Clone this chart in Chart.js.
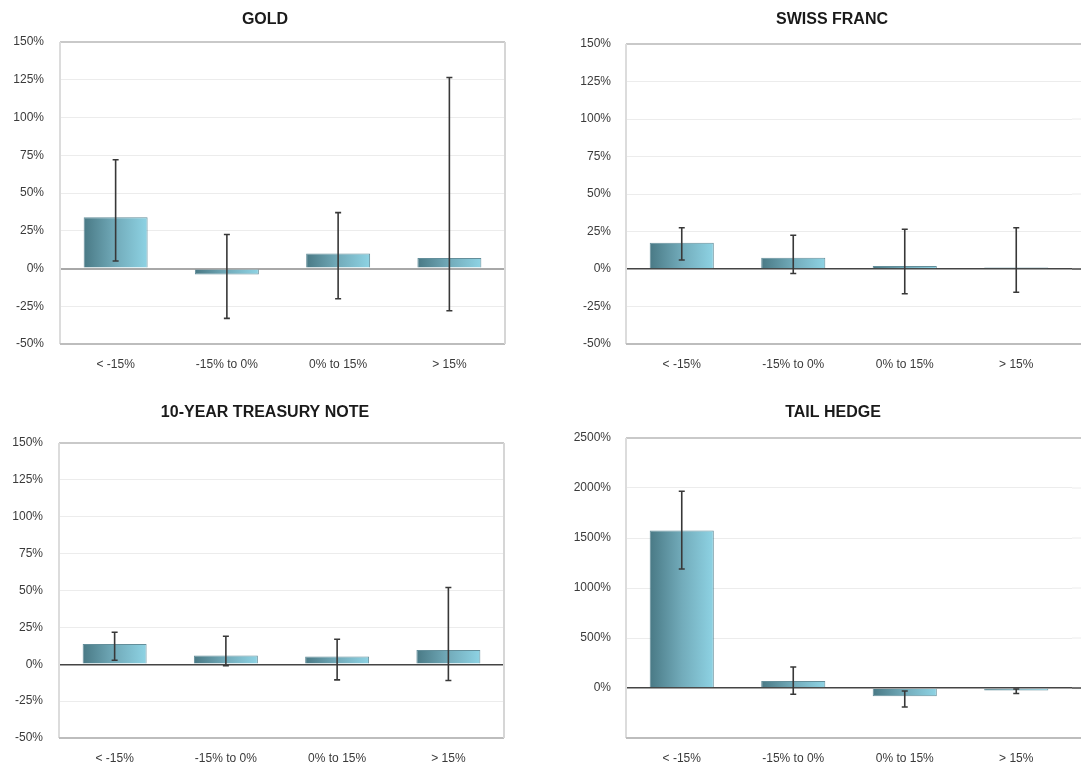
<!DOCTYPE html>
<html><head><meta charset="utf-8">
<script src="https://cdn.jsdelivr.net/npm/chart.js@4/dist/chart.umd.min.js"></script>
<style>
html,body{margin:0;padding:0;background:#fff;width:1081px;height:769px;overflow:hidden;position:relative}
canvas{position:absolute}
</style></head><body>
<canvas id="c1" width="540" height="385" style="left:0px;top:0px"></canvas>
<canvas id="c2" width="541" height="385" style="left:540px;top:0px"></canvas>
<canvas id="c3" width="540" height="379" style="left:0px;top:390px"></canvas>
<canvas id="c4" width="541" height="379" style="left:540px;top:390px"></canvas>
<script>
// ---- data ----
const categories = ['< -15%', '-15% to 0%', '0% to 15%', '> 15%'];

const goldValues = [34, -4, 10, 7];
const goldLow    = [5, -33, -20, -28];
const goldHigh   = [72, 22.5, 37, 126.5];

const swissValues = [17.5, 7.5, 2, 1];
const swissLow    = [6, -3, -16.5, -15.5];
const swissHigh   = [27.5, 22.5, 26.5, 27.5];

const treasuryValues = [13.8, 5.9, 5.2, 9.7];
const treasuryLow    = [2.7, -1, -10.6, -11];
const treasuryHigh   = [21.7, 19, 17, 52];

const tailValues = [1575, 70, -83, -25];
const tailLow    = [1190, -63, -190, -55];
const tailHigh   = [1967, 210, -30, -10];

const pctTicks = [-50, -25, 0, 25, 50, 75, 100, 125, 150];
const tailTicks = [-500, 0, 500, 1000, 1500, 2000, 2500];

// ---- styling / layout ----
const FONT = "'Liberation Sans', Arial, sans-serif";
const BAR_PCT = 0.575;

const panels = [
  {id:'c1', title:'GOLD', tx:265, ty:20, values:goldValues, low:goldLow, high:goldHigh, ticks:pctTicks,
   yW:60, yPad:16, padR:35, padT:42, xH:30, padB:11, zeroColor:'#a8a8a8', zeroW:2, extend:false},
  {id:'c2', title:'SWISS FRANC', tx:292, ty:20, values:swissValues, low:swissLow, high:swissHigh, ticks:pctTicks,
   yW:86, yPad:15, padR:9, padT:44, xH:30, padB:11, zeroColor:'#444444', zeroW:1.5, extend:true},
  {id:'c3', title:'10-YEAR TREASURY NOTE', tx:265, ty:23, values:treasuryValues, low:treasuryLow, high:treasuryHigh, ticks:pctTicks,
   yW:59, yPad:16, padR:36, padT:53, xH:28, padB:3, zeroColor:'#444444', zeroW:1.5, extend:false},
  {id:'c4', title:'TAIL HEDGE', tx:293, ty:23, values:tailValues, low:tailLow, high:tailHigh, ticks:tailTicks, hideMin:true,
   yW:86, yPad:15, padR:9, padT:48, xH:28, padB:3, zeroColor:'#444444', zeroW:1.5, extend:true}
];

const framePlugin = {
  id:'frame',
  beforeDatasetsDraw(chart, args, opts) {
    const {ctx, chartArea:a} = chart;
    const ys = chart.scales.y;
    ctx.save();
    if (opts.extend) {
      // gridlines continue past the right edge
      opts.ticks.forEach(v => {
        const y = ys.getPixelForValue(v);
        ctx.beginPath();
        ctx.strokeStyle = v === 0 ? opts.zeroColor : '#ececec';
        ctx.lineWidth = v === 0 ? opts.zeroW : 1;
        ctx.moveTo(a.right, y); ctx.lineTo(chart.width, y); ctx.stroke();
      });
    }
    const right = opts.extend ? chart.width : a.right;
    ctx.lineWidth = 2;
    ctx.strokeStyle = '#c9c9c9';
    ctx.beginPath(); ctx.moveTo(a.left, a.top); ctx.lineTo(right, a.top); ctx.stroke();
    ctx.strokeStyle = '#dcdcdc';
    ctx.beginPath(); ctx.moveTo(a.left, a.top); ctx.lineTo(a.left, a.bottom); ctx.stroke();
    ctx.strokeStyle = '#bdbdbd';
    ctx.beginPath(); ctx.moveTo(a.left, a.bottom); ctx.lineTo(right, a.bottom); ctx.stroke();
    if (!opts.extend) {
      ctx.strokeStyle = '#d6d6d6';
      ctx.beginPath(); ctx.moveTo(a.right, a.top); ctx.lineTo(a.right, a.bottom); ctx.stroke();
    }
    ctx.restore();
  }
};

const errorPlugin = {
  id:'errbars',
  afterDatasetsDraw(chart, args, opts) {
    const {ctx} = chart;
    const ys = chart.scales.y;
    const meta = chart.getDatasetMeta(0);
    ctx.save();
    ctx.strokeStyle = '#383838';
    ctx.lineWidth = 1.6;
    meta.data.forEach((bar, i) => {
      const x = bar.x;
      const y1 = ys.getPixelForValue(opts.low[i]);
      const y2 = ys.getPixelForValue(opts.high[i]);
      ctx.beginPath();
      ctx.moveTo(x, y1); ctx.lineTo(x, y2);
      ctx.moveTo(x - 3, y1); ctx.lineTo(x + 3, y1);
      ctx.moveTo(x - 3, y2); ctx.lineTo(x + 3, y2);
      ctx.stroke();
    });
    ctx.restore();
  }
};

const titlePlugin = {
  id:'ptitle',
  afterDraw(chart, args, opts) {
    const {ctx} = chart;
    ctx.save();
    ctx.font = "bold 16px " + FONT;
    ctx.fillStyle = '#1a1a1a';
    ctx.textAlign = 'center';
    ctx.textBaseline = 'middle';
    ctx.fillText(opts.text, opts.x, opts.y);
    ctx.restore();
  }
};

function barGradient(context) {
  const chart = context.chart;
  const xs = chart.scales && chart.scales.x;
  if (!chart.chartArea || !xs) return '#79b3c4';
  const cx = xs.getPixelForValue(context.dataIndex);
  const w = (xs.width / categories.length) * BAR_PCT;
  const g = chart.ctx.createLinearGradient(cx - w / 2, 0, cx + w / 2, 0);
  g.addColorStop(0, '#497985');
  g.addColorStop(0.5, '#72abba');
  g.addColorStop(1, '#8ed3e4');
  return g;
}

panels.forEach(p => {
  const tickMin = p.ticks[0], tickMax = p.ticks[p.ticks.length - 1];
  const step = p.ticks[2] - p.ticks[1];
  new Chart(document.getElementById(p.id), {
    type:'bar',
    data:{
      labels:categories,
      datasets:[{
        data:p.values,
        backgroundColor:barGradient,
        borderColor:'rgba(72,122,136,0.85)',
        borderWidth:1,
        categoryPercentage:1,
        barPercentage:BAR_PCT
      }]
    },
    options:{
      responsive:false,
      animation:false,
      layout:{padding:{left:0, right:p.padR, top:p.padT, bottom:p.padB}},
      plugins:{
        legend:{display:false},
        tooltip:{enabled:false},
        title:{display:false},
        frame:{extend:p.extend, ticks:p.ticks, zeroColor:p.zeroColor, zeroW:p.zeroW},
        errbars:{low:p.low, high:p.high},
        ptitle:{text:p.title, x:p.tx, y:p.ty}
      },
      scales:{
        x:{
          grid:{display:false, drawTicks:false},
          border:{display:false},
          ticks:{padding:13, color:'#3a3a3a', font:{family:FONT, size:12}},
          afterFit(s){ s.height = p.xH; }
        },
        y:{
          min:tickMin, max:tickMax,
          grid:{
            drawTicks:false,
            color:c => c.tick && c.tick.value === 0 ? p.zeroColor : '#ececec',
            lineWidth:c => c.tick && c.tick.value === 0 ? p.zeroW : 1
          },
          border:{display:false},
          ticks:{
            stepSize:step, padding:p.yPad, color:'#3a3a3a',
            font:{family:FONT, size:12},
            callback:v => (p.hideMin && v === tickMin) ? '' : v + '%'
          },
          afterFit(s){ s.width = p.yW; }
        }
      }
    },
    plugins:[framePlugin, errorPlugin, titlePlugin]
  });
});
</script>
</body></html>
